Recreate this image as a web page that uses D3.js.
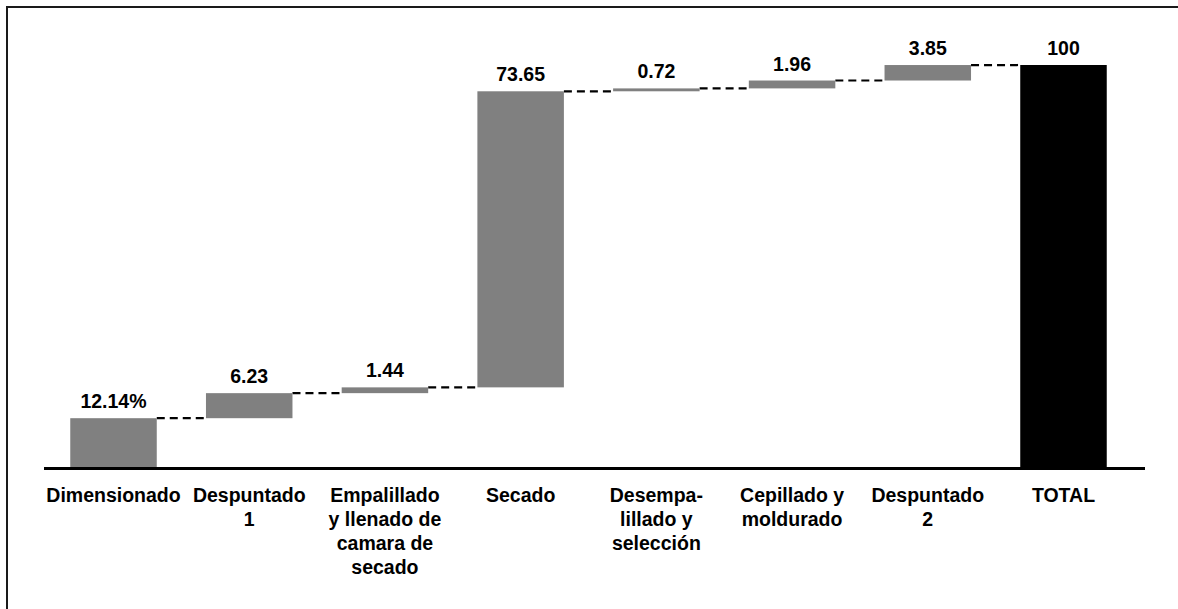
<!DOCTYPE html>
<html>
<head>
<meta charset="utf-8">
<script src="https://cdn.jsdelivr.net/npm/d3@7"></script>
<style>
  html, body { margin: 0; padding: 0; background: #fff; overflow: hidden; }
  svg { display: block; font-family: "Liberation Sans", Arial, sans-serif; }
</style>
</head>
<body>
<svg id="chart" width="1178" height="609"></svg>
<script>
// Process stages (multi-line labels) and their share of the total, in %
const categories = [
  ["Dimensionado"],
  ["Despuntado", "1"],
  ["Empalillado", "y llenado de", "camara de", "secado"],
  ["Secado"],
  ["Desempa-", "lillado y", "selección"],
  ["Cepillado y", "moldurado"],
  ["Despuntado", "2"],
  ["TOTAL"]
];
const stepValues = [12.14, 6.23, 1.44, 73.65, 0.72, 1.96, 3.85];
const totalValue = 100;
const yDomain = [0, 100];

const svg = d3.select("#chart");

// Outer frame (top and left edges fall inside the view)
svg.append("path")
  .attr("d", "M7,609 L7,7 L1178,7")
  .attr("fill", "none").attr("stroke", "#1a1a1a").attr("stroke-width", 2);

// Waterfall segments: each step starts where the previous one ended
let running = 0;
const bars = stepValues.map((v, i) => {
  const b = { i, start: running, end: running + v, value: v, total: false };
  running += v;
  return b;
});
bars.push({ i: stepValues.length, start: 0, end: totalValue, value: totalValue, total: true });

const x = d3.scaleBand()
  .domain(d3.range(categories.length))
  .range([45.65, 1131.35])
  .paddingInner(0.3626)
  .paddingOuter(0.1813);

const y = d3.scaleLinear().domain(yDomain).range([467, 65]);

// Dashed connectors between consecutive bars
const connectors = bars.slice(0, -1).map((b, k) => ({
  x1: x(b.i) + x.bandwidth(),
  x2: x(bars[k + 1].i),
  level: b.end
}));
svg.append("g")
  .selectAll("line")
  .data(connectors)
  .join("line")
  .attr("x1", d => d.x1)
  .attr("x2", d => d.x2)
  .attr("y1", d => y(d.level))
  .attr("y2", d => y(d.level))
  .attr("stroke", "#000")
  .attr("stroke-width", 2.2)
  .attr("stroke-dasharray", "8,5");

// Bars
svg.append("g")
  .selectAll("rect")
  .data(bars)
  .join("rect")
  .attr("x", d => x(d.i))
  .attr("width", x.bandwidth())
  .attr("y", d => y(d.end))
  .attr("height", d => y(d.start) - y(d.end))
  .attr("fill", d => d.total ? "#000" : "#808080");

// Value labels above each bar
svg.append("g")
  .selectAll("text")
  .data(bars)
  .join("text")
  .attr("x", d => x(d.i) + x.bandwidth() / 2)
  .attr("y", d => y(d.end) - 10)
  .attr("text-anchor", "middle")
  .attr("font-size", 19.5)
  .attr("font-weight", "bold")
  .attr("fill", "#000")
  .text(d => String(d.value) + (d.i === 0 ? "%" : ""));

// Category axis line
svg.append("line")
  .attr("x1", 44).attr("x2", 1145)
  .attr("y1", y(0) + 1.5).attr("y2", y(0) + 1.5)
  .attr("stroke", "#000").attr("stroke-width", 3);

// Category labels
const catLabels = svg.append("g")
  .selectAll("text")
  .data(categories)
  .join("text")
  .attr("x", (d, i) => x(i) + x.bandwidth() / 2)
  .attr("y", 502)
  .attr("text-anchor", "middle")
  .attr("font-size", 19.5)
  .attr("font-weight", "bold")
  .attr("fill", "#000");

catLabels.each(function(lines, i) {
  const cx = x(i) + x.bandwidth() / 2;
  d3.select(this).selectAll("tspan")
    .data(lines)
    .join("tspan")
    .attr("x", cx)
    .attr("dy", (d, k) => k === 0 ? 0 : 24)
    .text(d => d);
});
</script>
</body>
</html>
